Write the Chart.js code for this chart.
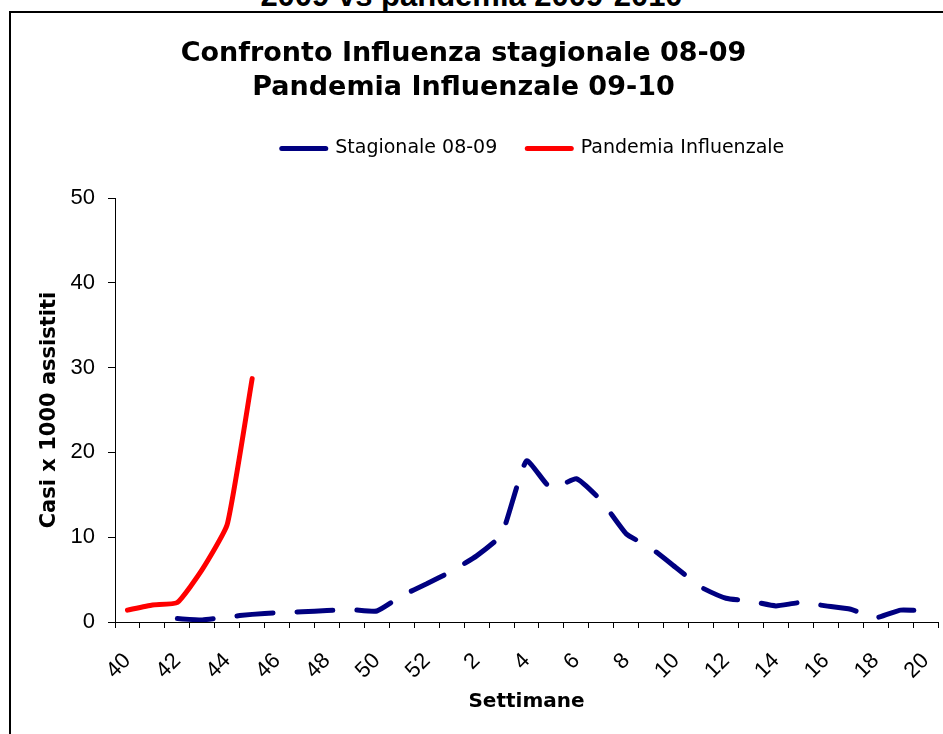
<!DOCTYPE html>
<html>
<head>
<meta charset="utf-8">
<script src="https://cdn.jsdelivr.net/npm/chart.js@4"></script>
<style>
  html, body { margin: 0; padding: 0; background: #fff; overflow: hidden; }
  #wrap { position: relative; width: 943px; height: 734px; overflow: hidden; }
  #cut { position: absolute; left: 0; top: -19px; width: 943px; text-align: center;
         font: bold 31px/30px "Liberation Sans", Arial, sans-serif; color: #000; }
  #frame { position: absolute; left: 9px; top: 11px; width: 960px; height: 760px;
           border-left: 2px solid #000; border-top: 2px solid #000; background: #fff; }
  canvas { position: absolute; left: 0; top: 0; }
</style>
</head>
<body>
<div id="wrap">
  <div id="cut">2009 vs pandemia 2009-2010</div>
  <div id="frame"></div>
  <canvas id="chart" width="943" height="734"></canvas>
</div>
<script>
// weeks 40..52 then 1..20
const weeks = ['40','41','42','43','44','45','46','47','48','49','50','51','52',
  '1','2','3','4','5','6','7','8','9','10','11','12','13','14','15','16','17','18','19','20'];

const stagionale = [null, null, 0.4, 0.25, 0.6, 0.9, 1.1, 1.2, 1.35, 1.45, 1.3, 3.1, 4.5,
  6.0, 7.8, 10.3, 19.0, 15.7, 16.9, 14.3, 10.4, 8.7, 6.4, 4.1, 2.8, 2.45, 1.9, 2.3, 1.9, 1.5, 0.5, 1.4, 1.3];

const pandemia = [1.4, 2.0, 2.3, 6.2, 11.5, 28.7];

const titleLines = ['Confronto Influenza stagionale 08-09', 'Pandemia Influenzale 09-10'];

// legend gets a fixed height so the plot starts where the original does
const legendSpace = {
  id: 'legendSpace',
  beforeInit(chart) {
    const fit = chart.legend.fit;
    chart.legend.fit = function () {
      fit.call(this);
      this.height = 89;
    };
  },
  afterLayout(chart) {
    chart.legend.left += 128;
    chart.titleBlock.left -= 11;
  }
};

new Chart(document.getElementById('chart'), {
  type: 'line',
  data: {
    labels: weeks,
    datasets: [
      {
        label: 'Stagionale 08-09',
        data: stagionale,
        borderColor: '#000080',
        backgroundColor: '#000080',
        borderWidth: 5,
        borderDash: [36, 24],
        borderCapStyle: 'round',
        borderJoinStyle: 'round',
        pointRadius: 0,
        tension: 0.15,
      },
      {
        label: 'Pandemia Influenzale',
        data: pandemia,
        borderColor: '#ff0000',
        backgroundColor: '#ff0000',
        borderWidth: 5,
        borderCapStyle: 'round',
        borderJoinStyle: 'round',
        pointRadius: 0,
        tension: 0.15,
      },
    ],
  },
  options: {
    responsive: false,
    animation: false,
    events: [],
    layout: { padding: { left: 0, right: 5, top: 0, bottom: 0 } },
    plugins: {
      title: {
        display: true,
        text: titleLines,
        color: '#000',
        font: { family: 'DejaVu Sans', size: 27, weight: 'bold', lineHeight: 1.26 },
        padding: { top: 37, bottom: 4 },
      },
      legend: {
        position: 'top',
        labels: {
          color: '#000',
          font: { family: 'DejaVu Sans', size: 19 },
          usePointStyle: true,
          pointStyle: 'line',
          pointStyleWidth: 44,
          padding: 30,
          generateLabels(chart) {
            const items = Chart.defaults.plugins.legend.labels.generateLabels(chart);
            items.forEach((it) => { it.lineDash = []; it.lineCap = 'round'; });
            return items;
          },
        },
      },
      tooltip: { enabled: false },
    },
    scales: {
      x: {
        offset: true,
        grid: { drawOnChartArea: false, offset: true, tickLength: 6, color: '#000' },
        border: { color: '#000', width: 1 },
        ticks: {
          autoSkip: false,
          minRotation: 45,
          maxRotation: 45,
          padding: 20,
          color: '#000',
          font: { family: 'Liberation Sans', size: 22 },
          callback(value, index) {
            return index % 2 === 0 ? this.getLabelForValue(value) : '';
          },
        },
        title: {
          display: true,
          text: 'Settimane',
          color: '#000',
          font: { family: 'DejaVu Sans', size: 20, weight: 'bold' },
          padding: { top: 0, bottom: 20 },
        },
        afterFit(scale) {
          scale.height = 112;
          scale.paddingLeft = 0;
          scale.paddingRight = 0;
        },
      },
      y: {
        min: 0,
        max: 50,
        ticks: {
          stepSize: 10,
          padding: 13,
          color: '#000',
          font: { family: 'Liberation Sans', size: 22 },
        },
        grid: { drawOnChartArea: false, tickLength: 7, color: '#000' },
        border: { color: '#000', width: 1 },
        title: {
          display: true,
          text: 'Casi x 1000 assistiti',
          color: '#000',
          font: { family: 'DejaVu Sans', size: 21, weight: 'bold' },
          padding: { top: 37, bottom: 0 },
        },
        afterFit(scale) { scale.width = 115; },
      },
    },
  },
  plugins: [legendSpace],
});
</script>
</body>
</html>
